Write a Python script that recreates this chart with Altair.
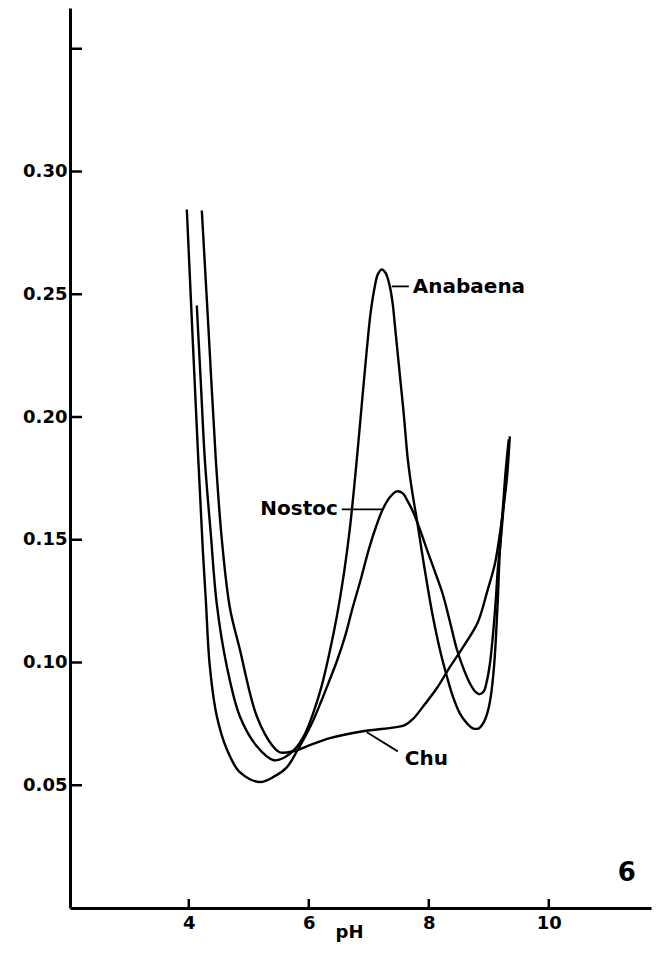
import altair as alt
import pandas as pd

# ---- values (pH vs. value) ----
series_names = ["Anabaena", "Nostoc", "Chu"]

anabaena_ph = [4.133, 4.2, 4.267, 4.367, 4.467, 4.633, 4.85, 5.133, 5.417, 5.6,
               5.767, 5.933, 6.083, 6.217, 6.35, 6.467, 6.583, 6.683, 6.8, 6.883,
               6.967, 7.033, 7.1, 7.15, 7.217, 7.283, 7.35, 7.4, 7.433, 7.483,
               7.533, 7.583, 7.65, 7.717, 7.8, 7.883, 7.967, 8.067, 8.183, 8.3,
               8.4, 8.517, 8.633, 8.733, 8.833, 8.917, 8.983, 9.033, 9.083, 9.117,
               9.15, 9.183, 9.233, 9.283, 9.333]
anabaena_val = [0.2454, 0.2141, 0.1827, 0.1522, 0.1237, 0.0985, 0.0781, 0.0659, 0.0602, 0.0614,
                0.0647, 0.0708, 0.0801, 0.0907, 0.1046, 0.1188, 0.1359, 0.1543, 0.1827, 0.2052,
                0.2276, 0.2430, 0.2532, 0.2581, 0.2601, 0.2585, 0.2532, 0.2458, 0.2377, 0.2255,
                0.2133, 0.2011, 0.1827, 0.1705, 0.1583, 0.1453, 0.1327, 0.1188, 0.1054, 0.0944,
                0.0862, 0.0793, 0.0753, 0.0732, 0.0732, 0.0757, 0.0801, 0.0862, 0.0972, 0.1094,
                0.1257, 0.1449, 0.1624, 0.1787, 0.1909]

nostoc_ph = [3.967, 4.15, 4.233, 4.283, 4.35, 4.467, 4.633, 4.85, 5.183, 5.433,
             5.633, 5.8, 5.933, 6.067, 6.2, 6.333, 6.467, 6.6, 6.733, 6.867,
             7.0, 7.117, 7.233, 7.35, 7.467, 7.567, 7.65, 7.733, 7.85, 7.967,
             8.1, 8.233, 8.35, 8.467, 8.583, 8.683, 8.783, 8.85, 8.917, 8.967,
             9.017, 9.067, 9.117, 9.15, 9.2, 9.25, 9.3]
nostoc_val = [0.2845, 0.1868, 0.1461, 0.1257, 0.0985, 0.0781, 0.0647, 0.0553, 0.0513, 0.0537,
              0.0573, 0.0638, 0.0696, 0.0761, 0.0838, 0.0920, 0.1005, 0.1103, 0.1225, 0.1339,
              0.1461, 0.1551, 0.1624, 0.1673, 0.1697, 0.1689, 0.1656, 0.1616, 0.1543, 0.1461,
              0.1371, 0.1278, 0.1168, 0.1054, 0.0972, 0.0916, 0.0879, 0.0871, 0.0883, 0.0924,
              0.0993, 0.1107, 0.1257, 0.1380, 0.1502, 0.1644, 0.1787]

chu_ph = [4.217, 4.333, 4.45, 4.55, 4.683, 4.85, 5.133, 5.4, 5.517, 5.733,
          6.017, 6.35, 6.9, 7.433, 7.6, 7.733, 7.933, 8.133, 8.35, 8.6,
          8.817, 8.983, 9.1, 9.183, 9.25, 9.3, 9.35]
chu_val = [0.2841, 0.2336, 0.1827, 0.1502, 0.1225, 0.1054, 0.0781, 0.0659, 0.0634, 0.0638,
           0.0663, 0.0692, 0.0720, 0.0736, 0.0745, 0.0769, 0.0830, 0.0895, 0.0981, 0.1074,
           0.1164, 0.1298, 0.1400, 0.1522, 0.1644, 0.1746, 0.1921]

x_tick_values = [4, 6, 8, 10]
y_tick_values = [0.05, 0.10, 0.15, 0.20, 0.25, 0.30]
y_tick_marks = [0.05, 0.10, 0.15, 0.20, 0.25, 0.30, 0.35]

# ---- build tables ----
rows = []
for name, phs, vals in [("Anabaena", anabaena_ph, anabaena_val),
                        ("Nostoc", nostoc_ph, nostoc_val),
                        ("Chu", chu_ph, chu_val)]:
    for i, (p, v) in enumerate(zip(phs, vals)):
        rows.append({"series": name, "ph": p, "val": v, "order": i})
df = pd.DataFrame(rows)

# annotation placement (in data units)
labels = pd.DataFrame({
    "text": ["Anabaena", "Nostoc", "Chu"],
    "ph": [7.733, 6.483, 7.6],
    "val": [0.2528, 0.1624, 0.0606],
    "align": ["left", "right", "left"],
})
leaders = pd.DataFrame({
    "ph": [7.383, 6.55, 6.967],
    "ph2": [7.667, 7.233, 7.483],
    "val": [0.2532, 0.1624, 0.0716],
    "val2": [0.2532, 0.1624, 0.0638],
})

FONT = "DejaVu Sans"
xscale = alt.Scale(domain=[2.02, 11.703], nice=False, zero=False)
yscale = alt.Scale(domain=[0, 0.3666], nice=False, zero=False)

x_axis = alt.Axis(values=x_tick_values, format="d", ticks=False, grid=False,
                  domainColor="black", domainWidth=3, labelColor="black",
                  labelFont=FONT, labelFontSize=18, labelFontWeight="bold",
                  labelPadding=6, title="pH", titleFont=FONT, titleFontSize=18,
                  titleFontWeight="bold", titleColor="black",
                  titleX=279, titleY=24, titleAlign="center", titleBaseline="middle")
y_axis = alt.Axis(values=y_tick_values, format=".2f", ticks=False, grid=False,
                  domainColor="black", domainWidth=3, labelColor="black",
                  labelFont=FONT, labelFontSize=18, labelFontWeight="bold",
                  labelPadding=3, title=None)

lines = alt.Chart(df).mark_line(color="black", strokeWidth=2.4, interpolate="catmull-rom").encode(
    x=alt.X("ph:Q", scale=xscale, axis=x_axis),
    y=alt.Y("val:Q", scale=yscale, axis=y_axis),
    detail="series:N",
    order="order:Q",
)

xt = pd.DataFrame({"ph": x_tick_values})
x_ticks = alt.Chart(xt).mark_rule(color="black", strokeWidth=2.5).encode(
    x=alt.X("ph:Q", scale=xscale), y=alt.value(900), y2=alt.value(891))

yt = pd.DataFrame({"val": y_tick_marks})
y_ticks = alt.Chart(yt).mark_rule(color="black", strokeWidth=2.5).encode(
    y=alt.Y("val:Q", scale=yscale), x=alt.value(0), x2=alt.value(12))

leader_rules = alt.Chart(leaders).mark_rule(color="black", strokeWidth=1.8).encode(
    x=alt.X("ph:Q", scale=xscale), x2="ph2:Q",
    y=alt.Y("val:Q", scale=yscale), y2="val2:Q")

label_left = alt.Chart(labels[labels["align"] == "left"]).mark_text(
    align="left", baseline="middle", font=FONT, fontSize=20, fontWeight="bold", color="black"
).encode(x=alt.X("ph:Q", scale=xscale), y=alt.Y("val:Q", scale=yscale), text="text:N")

label_right = alt.Chart(labels[labels["align"] == "right"]).mark_text(
    align="right", baseline="middle", font=FONT, fontSize=20, fontWeight="bold", color="black"
).encode(x=alt.X("ph:Q", scale=xscale), y=alt.Y("val:Q", scale=yscale), text="text:N")

panel = pd.DataFrame({"text": ["6"], "ph": [11.3], "val": [0.0142]})
panel_label = alt.Chart(panel).mark_text(
    align="center", baseline="middle", font=FONT, fontSize=26, fontWeight="bold", color="black"
).encode(x=alt.X("ph:Q", scale=xscale), y=alt.Y("val:Q", scale=yscale), text="text:N")

chart = alt.layer(lines, x_ticks, y_ticks, leader_rules, label_left, label_right, panel_label).properties(
    width=581, height=900,
    autosize=alt.AutoSizeParams(type="none"),
    padding={"left": 62, "top": 0, "right": 4, "bottom": 34},
    background="white",
).configure_view(strokeWidth=0)

chart.save("out.html", embed_options={"renderer": "svg", "actions": False})
